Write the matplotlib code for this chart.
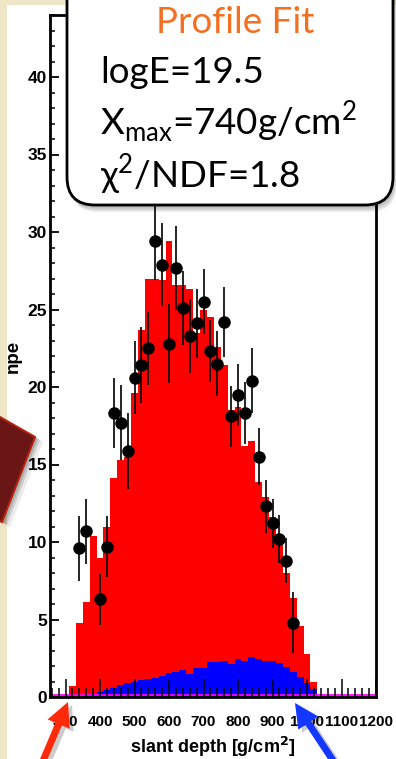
import matplotlib
matplotlib.use("Agg")
import matplotlib.pyplot as plt
import numpy as np
from matplotlib.patches import FancyBboxPatch, Polygon, FancyArrow, Rectangle
from matplotlib.ticker import MultipleLocator

# simulated signal, 20 g/cm2 bins
bin_edges = np.arange(310, 1031, 20)
total_npe = [0.7, 4.8, 6.1, 10.4, 9.0, 11.0, 14.1, 15.3, 15.5, 19.6, 23.7, 27.0,
             27.0, 26.9, 29.4, 26.6, 26.6, 26.3, 23.5, 25.0, 24.5, 22.6, 21.4, 18.5,
             18.7, 16.2, 16.5, 13.9, 12.9, 11.6, 10.0, 8.0, 6.4, 4.6, 2.8, 1.0]
blue_npe = [0, 0, 0.1, 0.2, 0.3, 0.45, 0.6, 0.75, 0.9, 1.0, 1.1, 1.15,
            1.2, 1.35, 1.55, 1.6, 1.75, 1.5, 1.85, 1.9, 2.25, 2.25, 2.3, 2.1,
            2.45, 2.3, 2.55, 2.45, 2.3, 2.3, 2.2, 1.95, 1.6, 1.3, 0.9, 0.5]

# measured points
depth = [340, 360, 400, 420, 440, 460, 480, 500, 520, 540, 560, 580, 600, 620, 640,
         660, 680, 700, 720, 740, 760, 780, 800, 820, 840, 860, 880, 900, 920, 940, 960]
npe_meas = [9.6, 10.7, 6.3, 9.7, 18.3, 17.7, 15.9, 20.6, 21.4, 22.5, 29.4, 27.9, 22.8,
            27.7, 25.1, 23.3, 24.1, 25.5, 22.3, 21.5, 24.2, 18.1, 19.5, 18.3, 20.4,
            15.5, 12.3, 11.2, 10.2, 8.8, 4.8]
npe_err = [2.1, 2.1, 1.65, 1.95, 2.25, 2.4, 2.45, 2.35, 2.45, 2.35, 2.5, 2.7, 2.55,
           2.7, 2.4, 2.4, 2.2, 2.1, 2.0, 2.1, 2.25, 1.95, 2.0, 2.0, 2.1, 1.85, 1.7,
           1.6, 1.55, 1.45, 1.95]

x_ticks = [300, 400, 500, 600, 700, 800, 900, 1000, 1100, 1200]
y_ticks = [0, 5, 10, 15, 20, 25, 30, 35, 40]

W, H = 396, 759
fig = plt.figure(figsize=(W / 100, H / 100), dpi=100)
fig.patch.set_facecolor("#efe6c8")

# background: white canvas on parchment
bg = fig.add_axes([0, 0, 1, 1], zorder=0)
bg.set_xlim(0, W)
bg.set_ylim(H, 0)
bg.axis("off")
bg.add_patch(Rectangle((7, 5), W, H, facecolor="white", edgecolor="none"))

# main plot
ax = fig.add_axes([50 / W, (H - 697) / H, 326 / W, 682 / H], zorder=1)
ax.set_facecolor("white")
ax.stairs(total_npe, bin_edges, fill=True, color="#ff0000", zorder=1)
ax.stairs(blue_npe, bin_edges, fill=True, color="#0000ff", zorder=1.2)
ax.axhline(0.12, color="#ff00ff", lw=1.3, zorder=1.5)
ax.errorbar(depth, npe_meas, yerr=npe_err, fmt="o", color="black", ms=8,
            elinewidth=1.2, capsize=0, zorder=3)

ax.set_xlim(255, 1200)
ax.set_ylim(0, 44)
ax.set_xticks(x_ticks)
ax.set_yticks(y_ticks)
ax.xaxis.set_minor_locator(MultipleLocator(20))
ax.yaxis.set_minor_locator(MultipleLocator(1))
ax.tick_params(axis="x", which="major", direction="in", length=13, width=1.1,
               pad=13, top=False)
ax.tick_params(axis="x", which="minor", direction="in", length=6.5, width=1.1, top=False)
ax.tick_params(axis="y", which="major", direction="in", length=6.5, width=1.3,
               pad=2, right=False)
ax.tick_params(axis="y", which="minor", direction="in", length=3.3, width=1.1, right=False)
for lab in ax.get_xticklabels():
    lab.set_fontfamily("Liberation Sans")
    lab.set_fontweight("bold")
    lab.set_fontsize(11)
for lab in ax.get_yticklabels():
    lab.set_fontfamily("Liberation Sans")
    lab.set_fontweight("bold")
    lab.set_fontsize(12.5)
for sp in ax.spines.values():
    sp.set_linewidth(2)
    sp.set_zorder(4)

ax.set_xlabel("slant depth [g/cm$^\\mathbf{2}$]", fontsize=13, fontweight="bold",
              family="Liberation Sans", labelpad=4)
ax.set_ylabel("npe", fontsize=13.5, fontweight="bold", family="Liberation Sans",
              labelpad=4)

# overlay decorations in pixel coordinates
ov = fig.add_axes([0, 0, 1, 1], zorder=2)
ov.set_xlim(0, W)
ov.set_ylim(H, 0)
ov.axis("off")
ov.patch.set_alpha(0)

# dark red square with shadow
sq = [(35, 437), (2, 522), (-60, 490), (-30, 400)]
for off, a in [(8, 0.08), (5, 0.12), (3, 0.15)]:
    ov.add_patch(Polygon([(x + off, y + off * 0.6) for x, y in sq], closed=True,
                         facecolor="black", edgecolor="none", alpha=a))
ov.add_patch(Polygon(sq, closed=True, facecolor="#6a1616", edgecolor="#b3200c", lw=1.5))

# callout box with shadow
for k in range(6, 0, -1):
    ov.add_patch(FancyBboxPatch((67 + k * 0.6, -40 + k * 1.2), 326, 245,
                                boxstyle="round,pad=0,rounding_size=28",
                                facecolor="black", edgecolor="none", alpha=0.06))
ov.add_patch(FancyBboxPatch((67, -40), 326, 245, boxstyle="round,pad=0,rounding_size=28",
                            facecolor="white", edgecolor="black", lw=2))
ov.text(235, 33, "Profile Fit", color="#f37021", fontsize=26.5, family="Lato",
        ha="center", va="baseline")
ov.text(100, 83, "logE=19.5", color="black", fontsize=26.5, family="Lato", va="baseline")
ov.text(100, 135, "X$_\\mathregular{max}$=740g/cm$^\\mathregular{2}$", color="black",
        fontsize=26.5, family="Lato", va="baseline")
ov.text(100, 188, "χ$^\\mathregular{2}$/NDF=1.8", color="black", fontsize=26.5,
        family=["Lato", "DejaVu Sans"], va="baseline")

# arrows with shadows
for (x0, y0, x1, y1, c) in [(40, 768, 68, 702, "#ff2a0a"), (338, 768, 295, 703, "#1437ff")]:
    dx, dy = x1 - x0, y1 - y0
    ov.add_patch(FancyArrow(x0 + 4, y0 + 3, dx, dy, width=7, head_width=24,
                            head_length=24, length_includes_head=True,
                            facecolor="black", edgecolor="none", alpha=0.2))
    ov.add_patch(FancyArrow(x0, y0, dx, dy, width=7, head_width=24, head_length=24,
                            length_includes_head=True, facecolor=c, edgecolor="none"))

fig.savefig("out.png", dpi=100, facecolor=fig.get_facecolor())
